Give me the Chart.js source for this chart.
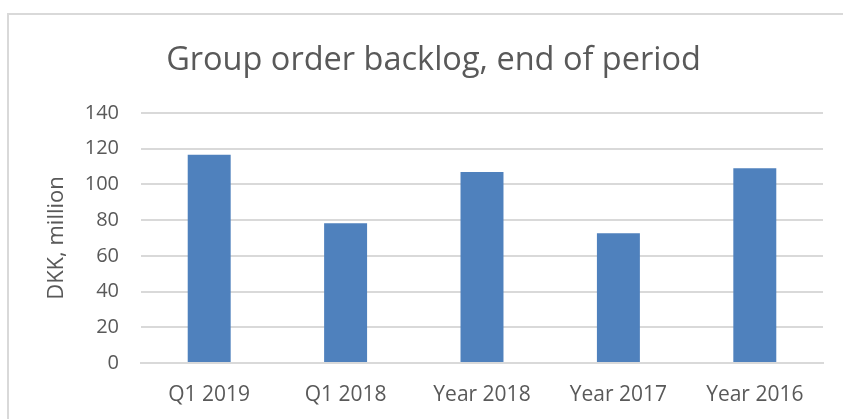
<!DOCTYPE html>
<html>
<head>
<meta charset="utf-8">
<script src="https://cdn.jsdelivr.net/npm/chart.js@4.4.1/dist/chart.umd.min.js"></script>
<style>
  html, body { margin: 0; padding: 0; background: #fff; }
  #wrap { position: relative; width: 843px; height: 419px; overflow: hidden; }
  #frame {
    position: absolute; left: 7px; top: 13px; width: 900px; height: 500px;
    border-left: 2px solid #d9d9d9; border-top: 2px solid #d9d9d9;
  }
  canvas { position: absolute; left: 0; top: 0; }
</style>
</head>
<body>
<div id="wrap">
  <div id="frame"></div>
  <canvas id="chart" width="843" height="419"></canvas>
</div>
<script>
// data
const categories = ['Q1 2019', 'Q1 2018', 'Year 2018', 'Year 2017', 'Year 2016'];
const backlog = [116.6, 78.3, 107, 72.7, 109];
const yTicks = [0, 20, 40, 60, 80, 100, 120, 140];

const TEXT = '#595959';
const GRID = '#d9d9d9';
const FONT = "'Open Sans', 'DejaVu Sans', sans-serif";

const ctx = document.getElementById('chart').getContext('2d');

new Chart(ctx, {
  type: 'bar',
  data: {
    labels: categories,
    datasets: [{
      label: 'Order backlog',
      data: backlog,
      backgroundColor: '#4f81bd',
      borderWidth: 0,
      categoryPercentage: 1,
      barPercentage: 0.315
    }]
  },
  options: {
    responsive: false,
    animation: false,
    layout: { padding: { left: 44, right: 20, top: 0, bottom: 0 } },
    plugins: {
      legend: { display: false },
      tooltip: { enabled: false },
      title: {
        display: true,
        text: 'Group order backlog, end of period',
        color: TEXT,
        font: { family: FONT, size: 32.5, weight: 'normal' },
        padding: { top: 41, bottom: 33 }
      }
    },
    scales: {
      x: {
        grid: { display: false, drawTicks: false },
        border: { display: true, color: GRID, width: 2 },
        ticks: { color: TEXT, padding: 19, font: { family: FONT, size: 21 }, maxRotation: 0 },
        afterFit: (s) => { s.height = 56; }
      },
      y: {
        min: 0,
        max: 140,
        afterBuildTicks: (scale) => {
          scale.ticks = yTicks.map(v => ({ value: v }));
        },
        grid: { color: GRID, lineWidth: 2, drawTicks: false },
        border: { display: false },
        ticks: { color: TEXT, padding: 22, font: { family: FONT, size: 20 } },
        title: {
          display: true,
          text: 'DKK, million',
          color: TEXT,
          font: { family: FONT, size: 22 },
          padding: { top: 0, bottom: 0 }
        },
        afterFit: (s) => { s.width = 97; }
      }
    }
  }
});
</script>
</body>
</html>
